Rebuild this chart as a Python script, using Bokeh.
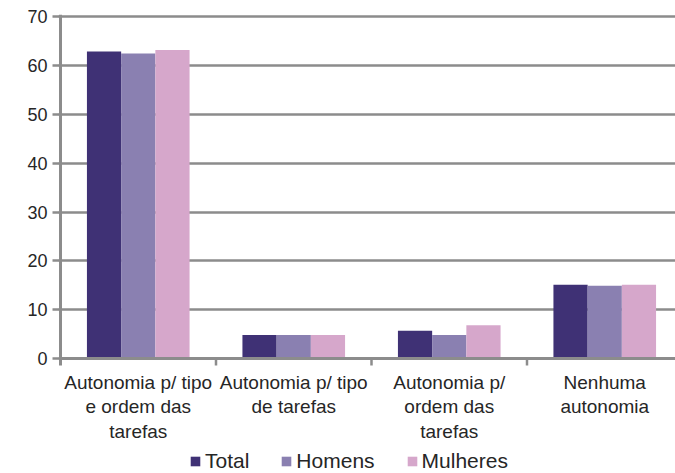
from bokeh.plotting import figure
from bokeh.models import (ColumnDataSource, Range1d, FixedTicker, Legend, LegendItem)
from bokeh.core.properties import value
from bokeh.transform import dodge
from bokeh.embed import file_html
from bokeh.resources import INLINE

categories = ["Autonomia p/ tipo\ne ordem das\ntarefas",
              "Autonomia p/ tipo\nde tarefas",
              "Autonomia p/\nordem das\ntarefas",
              "Nenhuma\nautonomia"]
total = [62.9, 4.8, 5.7, 15.1]
homens = [62.5, 4.8, 4.8, 14.9]
mulheres = [63.2, 4.8, 6.8, 15.1]
series_names = ["Total", "Homens", "Mulheres"]
y_ticks = [0, 10, 20, 30, 40, 50, 60, 70]

colors = ["#3f3175", "#8a80b1", "#d6a7cb"]
FONT = "Liberation Sans"
GRAY = "#8c8c8c"
TXT = "#262626"

# layout (pixels)
FRAME_W, FRAME_H = 617, 459
UNIT = 155.5                 # px per category
PX_Y = 344 / 70.5            # px per y unit
ZERO_FROM_BOTTOM = 115       # px between y=0 and frame bottom
TICK = 7                     # x tick length, px

x0 = -2 / UNIT
x_range = Range1d(x0, x0 + FRAME_W / UNIT)
y_range = Range1d(-ZERO_FROM_BOTTOM / PX_Y, 70.5)

n = len(categories)
xs = [i + 0.5 for i in range(n)]
bounds = list(range(n + 1))
src = ColumnDataSource(dict(x=xs, total=total, homens=homens, mulheres=mulheres,
                            label=categories))

p = figure(frame_width=FRAME_W, frame_height=FRAME_H, output_backend="svg",
           toolbar_location=None, x_range=x_range, y_range=y_range)
p.min_border_left = 58
p.min_border_right = 0
p.min_border_top = 14
p.min_border_bottom = 0
p.outline_line_color = None
p.background_fill_color = "white"
p.border_fill_color = "white"

# grid
p.xgrid.visible = False
p.ygrid.ticker = FixedTicker(ticks=y_ticks)
p.ygrid.grid_line_color = GRAY
p.ygrid.grid_line_width = 2.5

w = 0.22
r1 = p.vbar(x=dodge("x", -w, range=p.x_range), top="total", width=w, bottom=0, source=src,
            fill_color=colors[0], line_color=None)
r2 = p.vbar(x=dodge("x", 0, range=p.x_range), top="homens", width=w, bottom=0, source=src,
            fill_color=colors[1], line_color=None)
r3 = p.vbar(x=dodge("x", w, range=p.x_range), top="mulheres", width=w, bottom=0, source=src,
            fill_color=colors[2], line_color=None)

# x axis drawn by hand (line, boundary ticks, category labels)
p.xaxis.visible = False
tick_len = TICK / PX_Y
p.segment(x0=[bounds[0]], y0=[0], x1=[x_range.end], y1=[0], line_color=GRAY, line_width=3)
p.segment(x0=bounds[1:], y0=[0] * n, x1=bounds[1:], y1=[-tick_len] * n,
          line_color=GRAY, line_width=2.5)
# y axis line
p.segment(x0=[bounds[0]], y0=[-tick_len], x1=[bounds[0]], y1=[70.5], line_color=GRAY, line_width=3)
p.text(x="x", y=0, text="label", source=src, y_offset=13,
       text_align="center", text_baseline="top",
       text_font=value(FONT), text_font_size="19px", text_color=TXT, text_line_height=1.18)

# y axis ticks and labels
ya = p.yaxis[0]
ya.ticker = FixedTicker(ticks=y_ticks)
ya.minor_tick_line_color = None
ya.axis_line_color = None
ya.major_tick_line_color = GRAY
ya.major_tick_line_width = 2.5
ya.major_tick_out = 6
ya.major_tick_in = 2
ya.major_label_text_font = FONT
ya.major_label_text_font_size = "18px"
ya.major_label_text_color = TXT
ya.major_label_standoff = 5

legend = Legend(items=[LegendItem(label=series_names[0], renderers=[r1]),
                       LegendItem(label=series_names[1], renderers=[r2]),
                       LegendItem(label=series_names[2], renderers=[r3])],
                orientation="horizontal", location=(131, 0))
legend.glyph_width = 12
legend.glyph_height = 12
legend.label_standoff = 4
legend.spacing = 31
legend.padding = 0
legend.margin = 0
legend.border_line_color = None
legend.background_fill_alpha = 0
legend.label_text_font = FONT
legend.label_text_font_size = "21px"
legend.label_text_color = TXT
p.add_layout(legend, "center")

open("out.html", "w").write(file_html(p, INLINE))
